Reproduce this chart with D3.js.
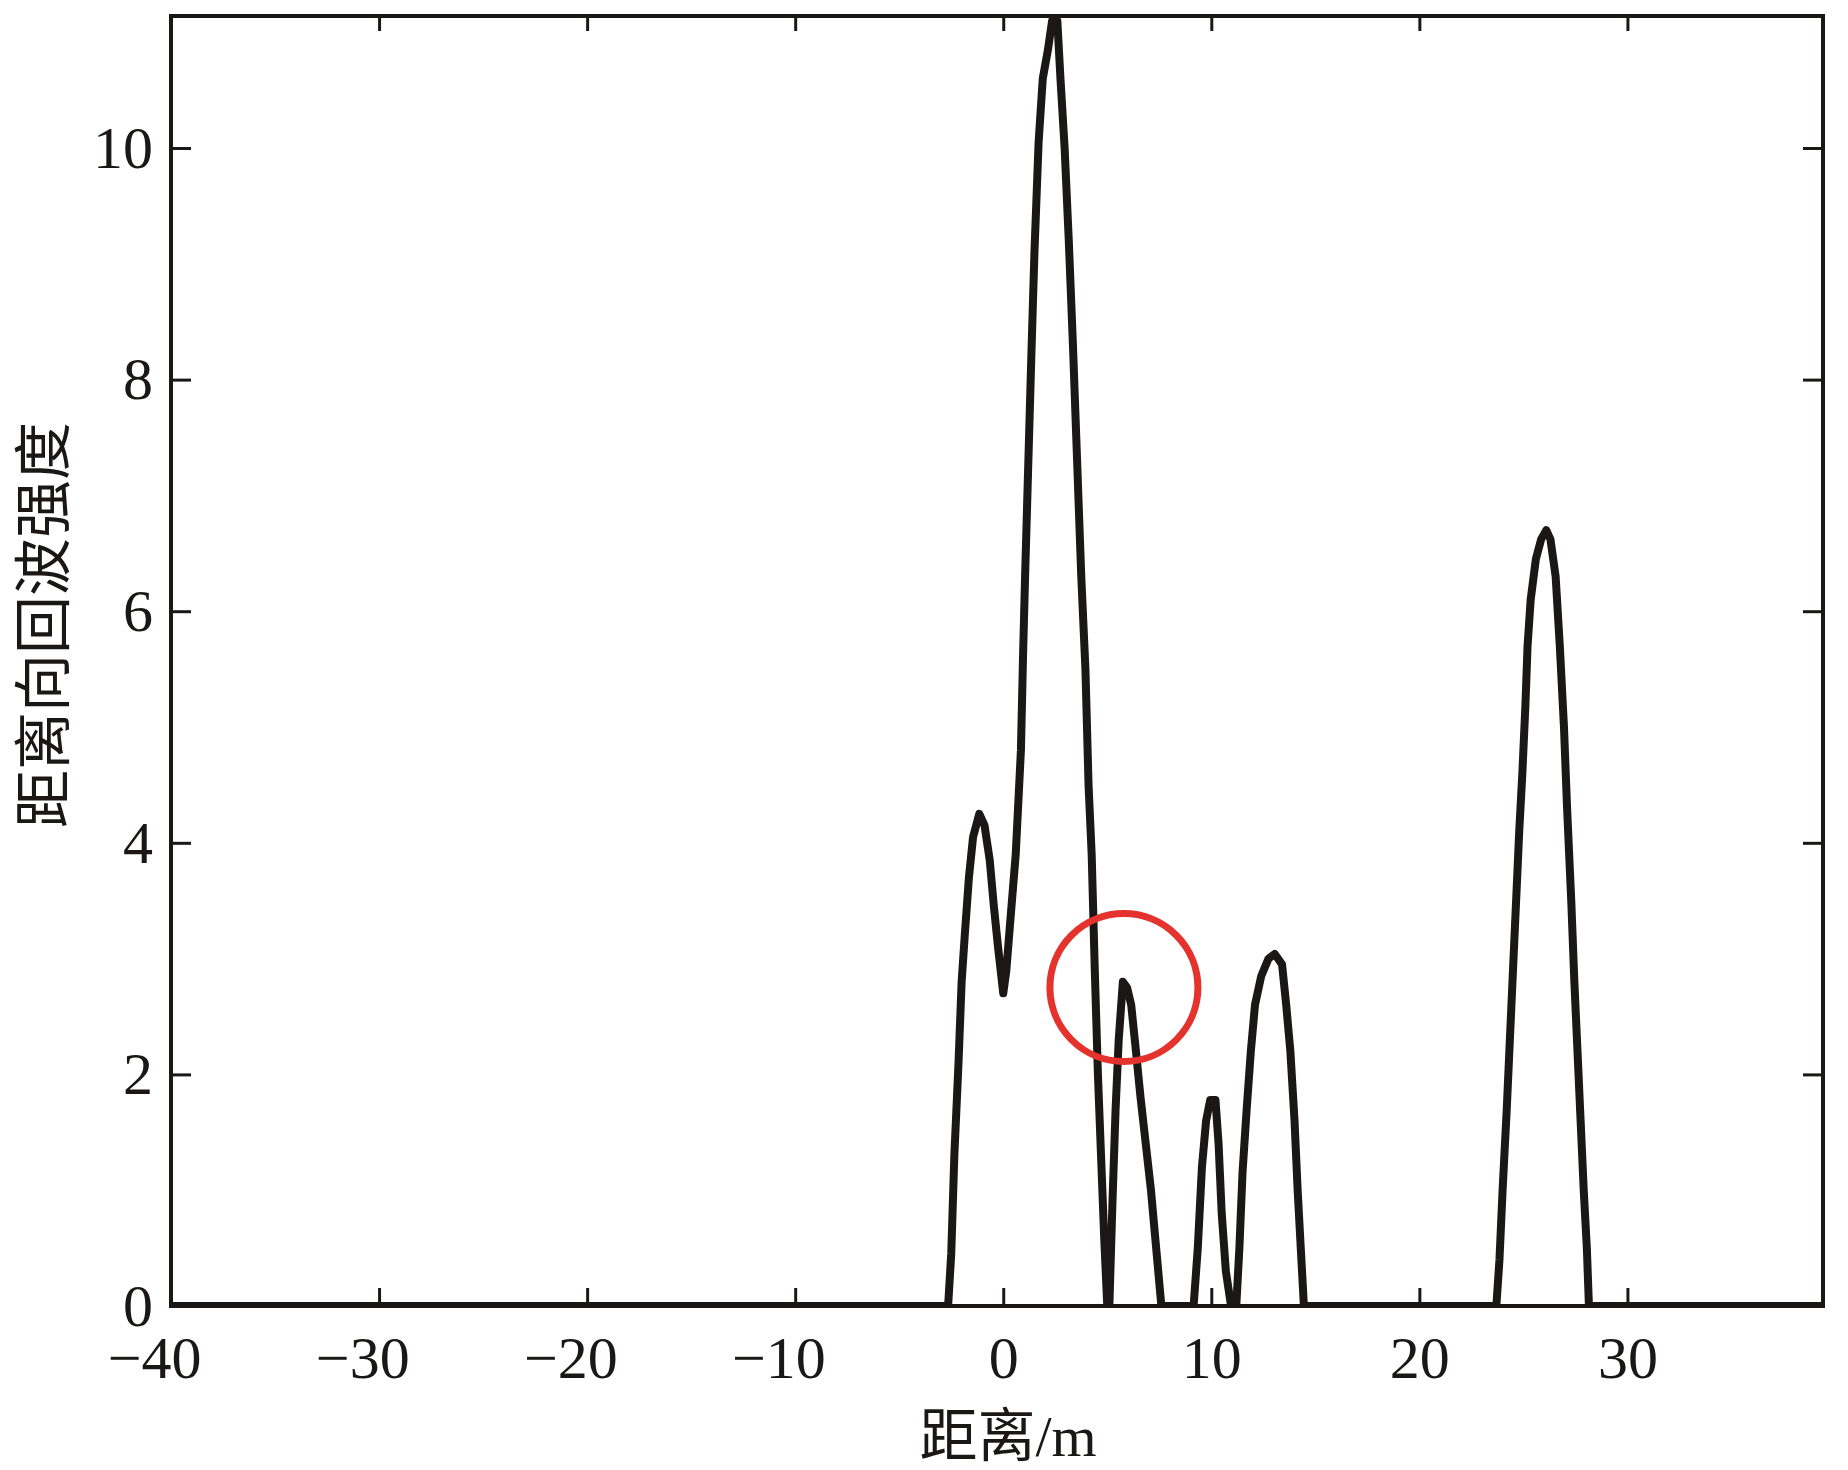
<!DOCTYPE html>
<html lang="zh">
<head>
    <meta charset="UTF-8">
    <title>距离向回波强度</title>
    <style>
        body {
            margin: 0;
            background: #fff;
            overflow: hidden;
        }
        .tick text {
            font-family: 'Liberation Serif', serif;
            font-size: 60px;
            fill: #1a1716;
        }
        .tick line {
            stroke: #1a1716;
            stroke-width: 3;
        }
        .axis-title {
            font-family: 'Liberation Serif', 'Noto Sans CJK SC', serif;
            font-size: 58px;
            fill: #1a1716;
        }
    </style>
    <script src="https://d3js.org/d3.v7.min.js"></script>
</head>
<body>
    <div id="chart"></div>
    <script>
        // distance (m) and echo intensity
        const distance = [
            -40, -2.65, -2.5, -2.35, -2.15, -2.0, -1.85, -1.65, -1.45, -1.15, -0.9, -0.65, -0.45, -0.25, 0.0,
            0.15, 0.35, 0.6, 0.85, 0.95, 1.05, 1.2, 1.35, 1.5, 1.7, 1.9, 2.15, 2.35, 2.6, 2.75, 2.95,
            3.15, 3.35, 3.55, 3.75, 3.95, 4.1, 4.25, 4.4, 4.55, 4.7, 4.85, 5.0,
            5.1, 5.25, 5.4, 5.55, 5.75, 5.95, 6.15, 6.35, 6.6, 6.85, 7.1, 7.3, 7.6,
            9.15, 9.35, 9.55, 9.75, 9.95, 10.2, 10.35, 10.5, 10.7, 10.95,
            11.2, 11.35, 11.5, 11.7, 11.9, 12.1, 12.4, 12.75, 13.05, 13.4, 13.6, 13.8, 14.0, 14.15, 14.3, 14.45,
            23.7, 23.85, 24.0, 24.2, 24.35, 24.5, 24.65, 24.8, 24.95, 25.1, 25.2, 25.35, 25.6, 25.85, 26.1,
            26.3, 26.55, 26.75, 26.95, 27.1, 27.3, 27.45, 27.6, 27.75, 27.9, 28.05, 28.15, 39.4
        ];
        const intensity = [
            0, 0, 0.45, 1.3, 2.1, 2.8, 3.2, 3.7, 4.05, 4.25, 4.15, 3.85, 3.45, 3.1, 2.7,
            2.9, 3.35, 3.9, 4.8, 5.6, 6.3, 7.25, 8.2, 9.1, 10.05, 10.6, 10.85, 11.1, 11.1, 10.6, 10.0,
            9.2, 8.3, 7.3, 6.3, 5.5, 4.5, 3.9, 2.9, 2.0, 1.3, 0.6, 0,
            0, 0.9, 1.7, 2.3, 2.8, 2.75, 2.6, 2.25, 1.8, 1.4, 1.0, 0.6, 0,
            0, 0.5, 1.2, 1.6, 1.78, 1.78, 1.4, 0.8, 0.3, 0,
            0, 0.5, 1.15, 1.7, 2.2, 2.6, 2.85, 3.0, 3.04, 2.95, 2.6, 2.2, 1.6, 1.0, 0.5, 0,
            0, 0.4, 1.0, 1.7, 2.3, 2.9, 3.5, 4.1, 4.6, 5.2, 5.7, 6.1, 6.45, 6.62, 6.7,
            6.62, 6.3, 5.7, 5.0, 4.3, 3.5, 2.8, 2.2, 1.6, 1.0, 0.5, 0, 0
        ];

        const xTicks = [-40, -30, -20, -10, 0, 10, 20, 30];
        const yTicks = [0, 2, 4, 6, 8, 10];
        const xDomain = [-40, 39.4];
        const yDomain = [0, 11.14];

        const xTitle = "距离/m";
        const yTitle = "距离向回波强度";

        // circled feature (distance, intensity)
        const markCenter = [5.8, 2.75];

        const width = 1848, height = 1470;
        const margin = { top: 16, right: 25, bottom: 164, left: 171 };
        const innerW = width - margin.left - margin.right;
        const innerH = height - margin.top - margin.bottom;

        const svg = d3.select("#chart")
            .append("svg")
            .attr("width", width)
            .attr("height", height);

        const g = svg.append("g")
            .attr("transform", `translate(${margin.left},${margin.top})`);

        const x = d3.scaleLinear().domain(xDomain).range([0, innerW]);
        const y = d3.scaleLinear().domain(yDomain).range([innerH, 0]);

        g.append("clipPath")
            .attr("id", "plot-clip")
            .append("rect")
            .attr("width", innerW)
            .attr("height", innerH);

        const points = distance.map((d, i) => [d, intensity[i]]);

        const line = d3.line()
            .x(d => x(d[0]))
            .y(d => y(d[1]));

        g.append("path")
            .datum(points)
            .attr("clip-path", "url(#plot-clip)")
            .attr("d", line)
            .attr("fill", "none")
            .attr("stroke", "#1a1716")
            .attr("stroke-width", 8)
            .attr("stroke-linejoin", "round");

        // axes, ticks pointing inward on all four sides
        const fmt = d => d < 0 ? "\u2212" + Math.abs(d) : String(d);

        const xBottom = g.append("g")
            .attr("transform", `translate(0,${innerH})`)
            .call(d3.axisBottom(x).tickValues(xTicks).tickFormat(fmt)
                .tickSizeInner(-18).tickSizeOuter(0).tickPadding(29));
        xBottom.selectAll(".tick text")
            .attr("dx", d => d < 0 ? "-0.28em" : 0);

        g.append("g")
            .call(d3.axisTop(x).tickValues(xTicks).tickFormat("")
                .tickSizeInner(-15).tickSizeOuter(0));

        g.append("g")
            .call(d3.axisLeft(y).tickValues(yTicks).tickFormat(fmt)
                .tickSizeInner(-20).tickSizeOuter(0).tickPadding(18));

        g.append("g")
            .attr("transform", `translate(${innerW},0)`)
            .call(d3.axisRight(y).tickValues(yTicks).tickFormat("")
                .tickSizeInner(-20).tickSizeOuter(0));

        g.selectAll(".domain").remove();

        g.append("rect")
            .attr("width", innerW)
            .attr("height", innerH)
            .attr("fill", "none")
            .attr("stroke", "#1a1716")
            .attr("stroke-width", 4);

        // red annotation circle
        g.append("circle")
            .attr("cx", x(markCenter[0]))
            .attr("cy", y(markCenter[1]))
            .attr("r", 74)
            .attr("fill", "none")
            .attr("stroke", "#e3332c")
            .attr("stroke-width", 7);

        svg.append("text")
            .attr("class", "axis-title")
            .attr("x", 1008)
            .attr("y", 1436)
            .attr("text-anchor", "middle")
            .attr("dominant-baseline", "central")
            .text(xTitle);

        svg.append("text")
            .attr("class", "axis-title")
            .attr("transform", "translate(44,625) rotate(-90)")
            .attr("text-anchor", "middle")
            .attr("dominant-baseline", "central")
            .text(yTitle);
    </script>
</body>
</html>
